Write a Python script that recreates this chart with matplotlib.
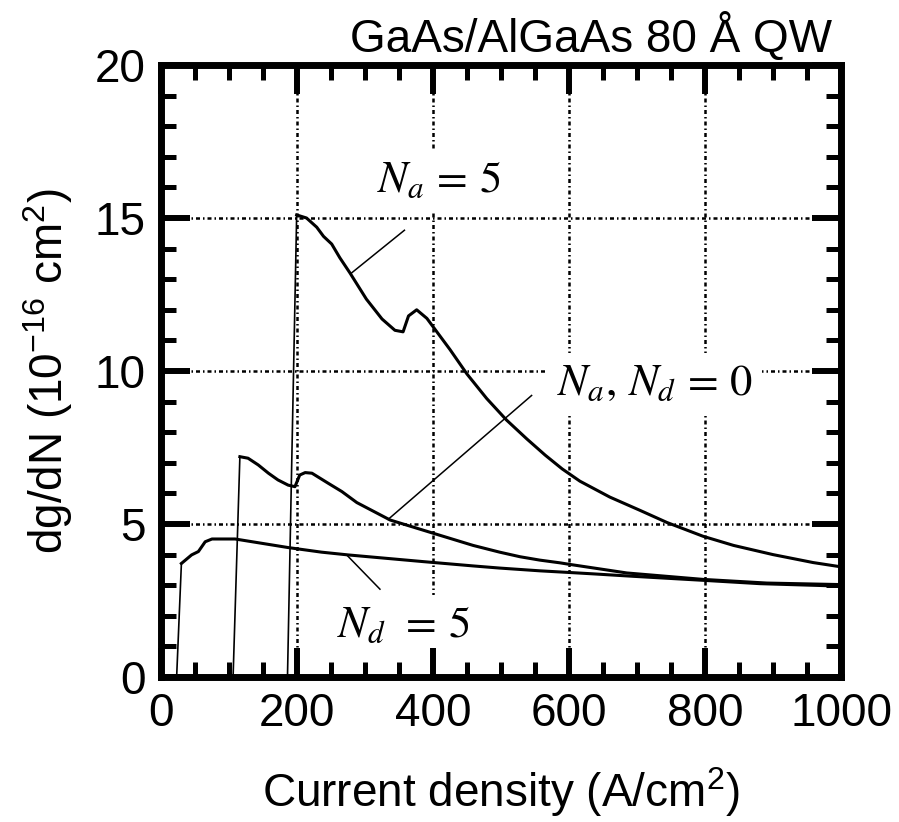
import numpy as np
import matplotlib
matplotlib.use("Agg")
import matplotlib.pyplot as plt
from matplotlib.ticker import MultipleLocator

plt.rcParams['font.family'] = ['Liberation Sans', 'DejaVu Sans']
plt.rcParams['mathtext.fontset'] = 'custom'
plt.rcParams['mathtext.rm'] = 'Liberation Sans'
plt.rcParams['mathtext.it'] = 'Liberation Sans:italic'

# curve data (current density A/cm^2, dg/dN 1e-16 cm^2)
na5_x = [186, 199.5, 214, 229, 239, 251, 263, 278, 302, 325, 344, 356, 364, 376, 391,
         405, 425, 450, 479, 508, 538, 565, 590, 616, 660, 704, 744, 797, 842, 900, 959, 1000]
na5_y = [0, 15.1, 15.0, 14.7, 14.4, 14.15, 13.7, 13.2, 12.35, 11.7, 11.33, 11.28, 11.8, 12.0, 11.72,
         11.3, 10.7, 9.9, 9.1, 8.4, 7.78, 7.25, 6.8, 6.4, 5.88, 5.45, 5.05, 4.6, 4.3, 4.0, 3.74, 3.6]

n0_x = [106, 116, 128, 143, 158, 172, 187, 197, 204, 212, 222, 246, 266, 288, 337,
        400, 459, 498, 528, 557, 587, 601, 685, 797, 891, 1000]
n0_y = [0, 7.2, 7.15, 6.93, 6.66, 6.44, 6.27, 6.22, 6.6, 6.68, 6.66, 6.33, 6.06, 5.7, 5.13,
        4.7, 4.3, 4.08, 3.93, 3.82, 3.73, 3.68, 3.4, 3.19, 3.07, 3.02]

nd5_x = [23, 30, 45, 55, 65, 75, 109, 148, 187, 236, 275, 386, 459, 498, 557,
         597, 636, 695, 734, 797, 881, 1000]
nd5_y = [0, 3.71, 3.99, 4.1, 4.42, 4.51, 4.51, 4.37, 4.23, 4.08, 3.99, 3.77, 3.63, 3.56, 3.47,
         3.42, 3.37, 3.29, 3.24, 3.16, 3.05, 2.97]

# leader lines from labels to curves
lead_na5 = ([358, 280], [14.6, 13.2])
lead_n0 = ([545, 334], [9.2, 5.15])
lead_nd5 = ([273, 322], [3.99, 2.87])

grid_x = [200, 400, 600, 800]
grid_y = [5, 10, 15]

fig = plt.figure(figsize=(8.99, 8.22), dpi=100)
ax = fig.add_axes([161/899, 1-677/822, 680/899, 612/822])

grid_ls = (0, (1.6, 1.2, 0.6, 1.2))
for gx in grid_x:
    ax.axvline(gx, color='k', lw=1.8, ls=grid_ls, zorder=1)
for gy in grid_y:
    ax.axhline(gy, color='k', lw=1.8, ls=grid_ls, zorder=1)

# steep rise drawn thin, rest thick
for cx, cy in [(na5_x, na5_y), (n0_x, n0_y), (nd5_x, nd5_y)]:
    ax.plot(cx[:2], cy[:2], color='k', lw=1.2, zorder=2)
    ax.plot(cx[1:], cy[1:], color='k', lw=2.2, zorder=2, solid_joinstyle='round')

for lx, ly in [lead_na5, lead_n0, lead_nd5]:
    ax.plot(lx, ly, color='k', lw=1.1, zorder=2)

box = dict(facecolor='white', edgecolor='none', pad=7)
ax.text(318, 15.85, r'$N_a\,=\,5$', fontsize=32, math_fontfamily='stix',
        ha='left', va='baseline', bbox=box, zorder=1.5)
ax.text(582, 9.22, r'$N_a,\,N_d\,=\,0$', fontsize=32, math_fontfamily='stix',
        ha='left', va='baseline', bbox=box, zorder=1.5)
ax.text(259, 1.31, r'$N_d\;\,=\,5$', fontsize=32, math_fontfamily='stix',
        ha='left', va='baseline', bbox=box, zorder=1.5)

ax.set_xlim(0, 1000)
ax.set_ylim(0, 20)
ax.xaxis.set_major_locator(MultipleLocator(200))
ax.xaxis.set_minor_locator(MultipleLocator(50))
ax.yaxis.set_major_locator(MultipleLocator(5))
ax.yaxis.set_minor_locator(MultipleLocator(1))
ax.tick_params(which='both', direction='in', top=True, right=True, labelsize=33, pad=11)
ax.tick_params(which='major', length=21, width=4.3)
ax.tick_params(which='minor', length=10.5, width=3.6)
for sp in ax.spines.values():
    sp.set_linewidth(5)

ax.set_xlabel('Current density (A/cm$^2$)', fontsize=33, labelpad=21)
ax.set_ylabel('dg/dN (10$^{-16}$ cm$^2$)', fontsize=33, labelpad=14)
fig.text(832/899, 1-52/822, 'GaAs/AlGaAs 80 Å QW', fontsize=33, ha='right', va='baseline')

fig.savefig('out.png', dpi=100)
